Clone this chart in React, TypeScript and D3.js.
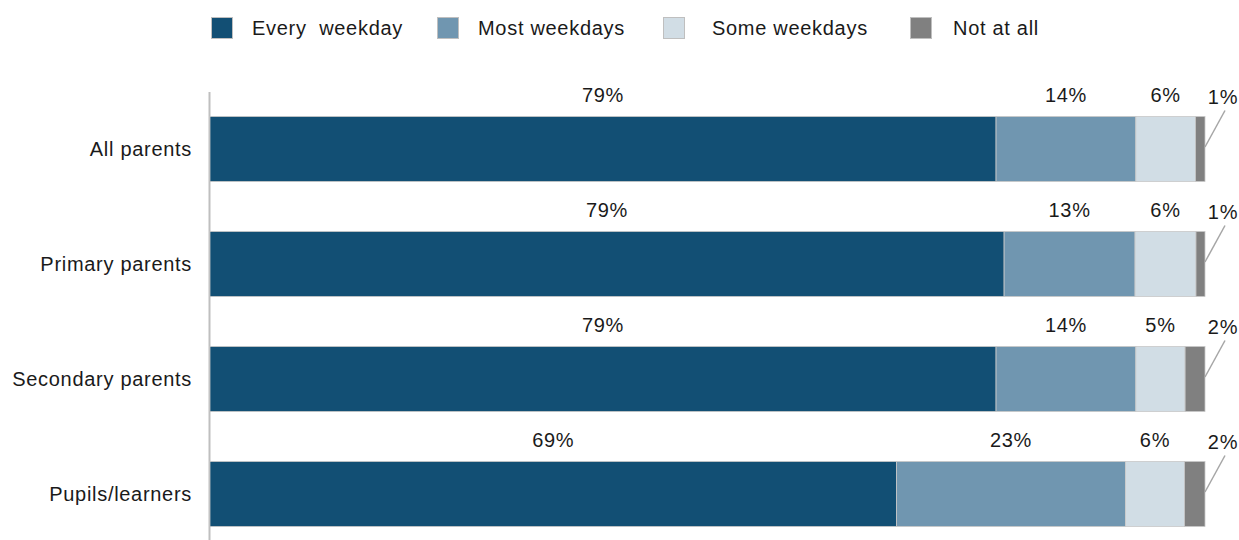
import React from "react";
import * as d3 from "d3";

const categories = ["All parents", "Primary parents", "Secondary parents", "Pupils/learners"];
const seriesNames = ["Every weekday", "Most weekdays", "Some weekdays", "Not at all"];
const everyWeekday = [79, 79.45, 79, 69];
const mostWeekdays = [14.05, 13.1, 14.05, 23];
const someWeekdays = [6, 6.1, 4.95, 5.95];
const notAtAll = [0.95, 0.9, 2, 2.05];
const colors = ["#124f74", "#7096b0", "#d1dde5", "#808080"];

const W = 1239;
const H = 540;
const FONT = "'Liberation Sans', Arial, sans-serif";
const FS = 20;
const LS = 0.7;

export default function App() {
  const rows = categories.map((c, i) => ({
    cat: c,
    [seriesNames[0]]: everyWeekday[i],
    [seriesNames[1]]: mostWeekdays[i],
    [seriesNames[2]]: someWeekdays[i],
    [seriesNames[3]]: notAtAll[i],
  }));
  const stack = d3.stack<any>().keys(seriesNames).offset(d3.stackOffsetExpand);
  const series = stack(rows);
  const x = d3.scaleLinear().domain([0, 1]).range([210, 1205]);
  const y = d3
    .scaleBand<string>()
    .domain(categories)
    .range([91.5, 551.5])
    .paddingInner(50 / 115)
    .paddingOuter(25 / 115);

  const legendX = [211, 437, 663, 910];
  const legendTextX = [252, 478, 712, 953];
  const legendLabels = ["Every  weekday", "Most weekdays", "Some weekdays", "Not at all"];

  return (
    <svg
      width={W}
      height={H}
      style={{ position: "absolute", left: 0, top: 0, background: "#fff" }}
      fontFamily={FONT}
    >
      {/* legend */}
      {seriesNames.map((s, i) => (
        <g key={s}>
          <rect x={legendX[i] + 0.5} y={17.5} width={21} height={21} fill={colors[i]} stroke="#bfbfbf" strokeWidth={1} />
          <text
            x={legendTextX[i]}
            y={28}
            dy="0.35em"
            fontSize={FS}
            letterSpacing={LS}
            fill="#1a1a1a"
            style={{ whiteSpace: "pre" }}
          >
            {legendLabels[i]}
          </text>
        </g>
      ))}
      {/* axis line */}
      <line x1={209.5} x2={209.5} y1={92} y2={540} stroke="#bfbfbf" strokeWidth={2} />
      {/* bars */}
      {series.map((ser, si) => (
        <g key={ser.key}>
          {ser.map((d, i) => (
            <rect
              key={i}
              x={x(d[0])}
              y={y(categories[i])!}
              width={x(d[1]) - x(d[0])}
              height={y.bandwidth()}
              fill={colors[si]}
              stroke="#c8c8c8"
              strokeWidth={0.8}
            />
          ))}
        </g>
      ))}
      {/* labels */}
      {series.map((ser, si) => (
        <g key={"l" + ser.key}>
          {ser.map((d, i) => {
            const raw = [everyWeekday, mostWeekdays, someWeekdays, notAtAll][si][i];
            const label = Math.round(raw) + "%";
            const top = y(categories[i])!;
            if (si === 3) {
              const xr = x(d[1]);
              const ym = top + y.bandwidth() / 2;
              return (
                <g key={i}>
                  <line x1={xr} y1={ym - 2} x2={xr + 20} y2={top - 6} stroke="#a6a6a6" strokeWidth={1.5} />
                  <text x={xr + 18} y={top - 20} dy="0.35em" textAnchor="middle" fontSize={FS} letterSpacing={LS} fill="#1a1a1a">
                    {label}
                  </text>
                </g>
              );
            }
            return (
              <text
                key={i}
                x={(x(d[0]) + x(d[1])) / 2}
                y={top - 22}
                dy="0.35em"
                textAnchor="middle"
                fontSize={FS}
                letterSpacing={LS}
                fill="#1a1a1a"
              >
                {label}
              </text>
            );
          })}
        </g>
      ))}
      {/* categories */}
      {categories.map((c) => (
        <text
          key={c}
          x={192}
          y={y(c)! + y.bandwidth() / 2}
          dy="0.35em"
          textAnchor="end"
          fontSize={FS}
          letterSpacing={LS}
          fill="#1a1a1a"
        >
          {c}
        </text>
      ))}
    </svg>
  );
}
